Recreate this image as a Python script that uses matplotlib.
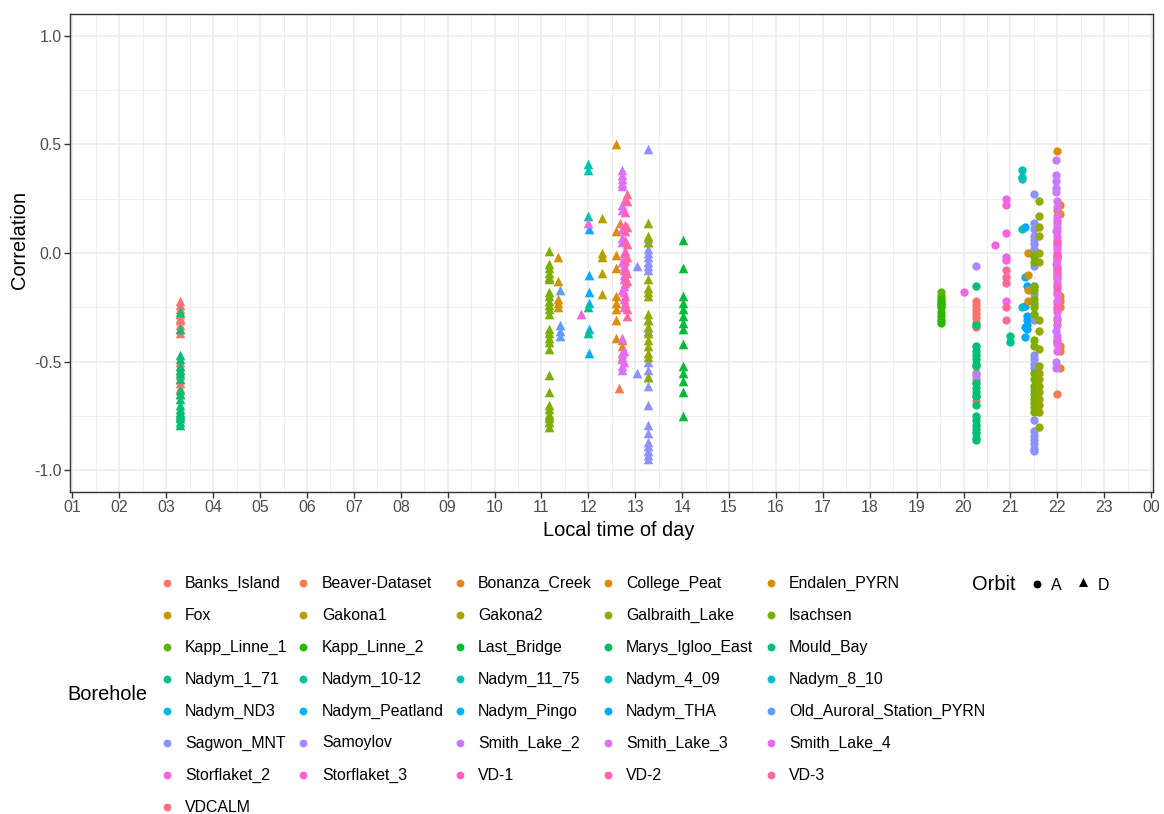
import numpy as np
import matplotlib
matplotlib.use("Agg")
import matplotlib.pyplot as plt

plt.rcParams['font.family'] = ['Liberation Sans', 'DejaVu Sans']

# ---- legend levels -------------------------------------------------------
boreholes = [
    "Banks_Island", "Beaver-Dataset", "Bonanza_Creek", "College_Peat", "Endalen_PYRN",
    "Fox", "Gakona1", "Gakona2", "Galbraith_Lake", "Isachsen",
    "Kapp_Linne_1", "Kapp_Linne_2", "Last_Bridge", "Marys_Igloo_East", "Mould_Bay",
    "Nadym_1_71", "Nadym_10-12", "Nadym_11_75", "Nadym_4_09", "Nadym_8_10",
    "Nadym_ND3", "Nadym_Peatland", "Nadym_Pingo", "Nadym_THA", "Old_Auroral_Station_PYRN",
    "Sagwon_MNT", "Samoylov", "Smith_Lake_2", "Smith_Lake_3", "Smith_Lake_4",
    "Storflaket_2", "Storflaket_3", "VD-1", "VD-2", "VD-3",
    "VDCALM",
]
orbits = ["A", "D"]
hour_labels = ["01", "02", "03", "04", "05", "06", "07", "08", "09", "10", "11", "12",
               "13", "14", "15", "16", "17", "18", "19", "20", "21", "22", "23", "00"]

# ---- descending orbit (local time in hours, correlation) -----------------
banks_island_D_t = 3.29
banks_island_D = [-0.22, -0.24, -0.26, -0.28, -0.30, -0.31, -0.33, -0.35, -0.37,
                  -0.50, -0.52, -0.54, -0.56, -0.58, -0.60, -0.62, -0.65]
mould_bay_D_t = 3.29
mould_bay_D = [-0.27, -0.35, -0.47, -0.49, -0.52, -0.54, -0.55, -0.58, -0.63, -0.65,
               -0.67, -0.70, -0.72, -0.73, -0.74, -0.75, -0.76, -0.78, -0.79]
isachsen_D_t = 11.16
isachsen_D = [0.01, -0.05, -0.07, -0.09, -0.11, -0.12, -0.18, -0.20, -0.22, -0.24,
              -0.26, -0.28, -0.35, -0.37, -0.39, -0.41, -0.44, -0.56, -0.64, -0.70,
              -0.72, -0.74, -0.75, -0.76, -0.78, -0.80]
endalen_D_t = 11.36
endalen_D = [-0.02, -0.13, -0.21, -0.23, -0.25]
old_auroral_D_t = 11.40
old_auroral_D = [-0.17, -0.33, -0.36, -0.38]
nadym_11_75_D_t = 12.0
nadym_11_75_D = [0.41, 0.38, 0.17]
nadym_pingo_D_t = 12.02
nadym_pingo_D = [0.11, -0.10, -0.18, -0.23, -0.35, -0.46]
nadym_1_71_D_t = 12.0
nadym_1_71_D = [-0.25, -0.37]
storflaket_2_D_t = [12.0, 11.84]
storflaket_2_D = [0.14, -0.28]
gakona1_D_t = 12.3
gakona1_D = [0.16, 0.0, -0.02, -0.09, -0.19]
college_peat_D_t = 12.6
college_peat_D = [0.50, 0.10, -0.01, -0.07, -0.20, -0.23, -0.26, -0.31, -0.39]
beaver_D_t = [12.68, 12.66]
beaver_D = [0.14, -0.62]
bonanza_D_t = 12.72
bonanza_D = [-0.40, -0.43, -0.46, -0.48]
smith_lake_3_D_t = 12.72
smith_lake_3_D = [0.38, 0.36, 0.34, 0.32, 0.31, 0.22, 0.20, 0.11, 0.07, 0.05,
                  -0.04, -0.17, -0.39, -0.46, -0.49, -0.52, -0.54]
smith_lake_4_D_t = 12.75
smith_lake_4_D = [0.0, -0.02, -0.04, -0.06, -0.08, -0.10, -0.12, -0.15, -0.18,
                  -0.21, -0.25, -0.45, -0.50]
vd_1_D_t = 12.79
vd_1_D = [0.25, 0.19, 0.13, 0.10, 0.06, 0.01, -0.03, -0.07, -0.11, -0.14, -0.20, -0.23]
vd_3_D_t = 12.82
vd_3_D = [0.27, 0.24, 0.12, 0.04, -0.02, -0.09, -0.13, -0.26, -0.29]
sagwon_D_t = [13.03, 13.03] + [13.27] * 24
sagwon_D = [-0.06, -0.55,
            0.48, 0.07, 0.05, 0.02, 0.0, -0.02, -0.04, -0.06, -0.08, -0.31, -0.34,
            -0.36, -0.50, -0.54, -0.57, -0.61, -0.70, -0.79, -0.83, -0.87, -0.89,
            -0.91, -0.93, -0.95]
galbraith_D_t = 13.27
galbraith_D = [0.14, 0.08, 0.05, -0.12, -0.16, -0.18, -0.20, -0.28, -0.31, -0.34,
               -0.37, -0.40, -0.43, -0.46, -0.48, -0.57]
last_bridge_D_t = 14.02
last_bridge_D = [0.06, -0.07, -0.20, -0.23, -0.26, -0.29, -0.32, -0.35, -0.42, -0.52,
                 -0.55, -0.59, -0.64, -0.75]

# ---- ascending orbit ------------------------------------------------------
kapp_linne_1_A_t = 19.52
kapp_linne_1_A = [-0.18, -0.20, -0.22, -0.24]
kapp_linne_2_A_t = 19.52
kapp_linne_2_A = [-0.21, -0.23, -0.25, -0.27, -0.29, -0.31, -0.32]
banks_island_A_t = 20.26
banks_island_A = [-0.22, -0.24, -0.26, -0.28, -0.30, -0.32, -0.34, -0.55, -0.58,
                  -0.60, -0.66, -0.68]
mould_bay_A_t = 20.26
mould_bay_A = [-0.15, -0.33, -0.43, -0.45, -0.47, -0.49, -0.51, -0.52, -0.60, -0.62,
               -0.64, -0.66, -0.70, -0.75, -0.77, -0.79, -0.81, -0.83, -0.85, -0.86]
samoylov_A_t = 20.26
samoylov_A = [-0.06, -0.56]
storflaket_2_A_t = [20.0, 20.67, 20.91, 20.91, 20.91, 20.91, 20.91, 20.91]
storflaket_2_A = [-0.18, 0.035, 0.25, 0.22, 0.09, -0.02, -0.03, -0.22]
vd_3_A_t = 20.91
vd_3_A = [-0.08, -0.11, -0.14, -0.25, -0.31]
nadym_1_71_A_t = 21.0
nadym_1_71_A = [-0.38, -0.41]
nadym_11_75_A_t = 21.25
nadym_11_75_A = [0.38, 0.35, 0.34, 0.11, -0.25]
nadym_pingo_A_t = 21.3
nadym_pingo_A = [0.12, -0.11, -0.245, -0.34, -0.385]
nadym_tha_A_t = 21.36
nadym_tha_A = [-0.15, -0.29, -0.31, -0.33, -0.35]
endalen_A_t = 21.38
endalen_A = [0.0, -0.10, -0.17, -0.22]
sagwon_A_t = 21.5
sagwon_A = [0.27, 0.14, 0.11, 0.08, 0.06, 0.04, 0.02, -0.02, -0.06, -0.15, -0.19,
            -0.29, -0.31, -0.47, -0.49, -0.51, -0.53, -0.63, -0.77, -0.82, -0.84,
            -0.86, -0.88, -0.90, -0.91]
isachsen_A_t = 21.5
isachsen_A = [-0.01, -0.04, -0.15, -0.17, -0.21, -0.23, -0.25, -0.28, -0.40, -0.43,
              -0.55, -0.58, -0.61, -0.65, -0.67, -0.69, -0.71, -0.73]
galbraith_A_t = 21.6
galbraith_A = [0.24, 0.17, 0.12, 0.08, 0.0, -0.04, -0.31, -0.36, -0.44, -0.52, -0.55,
               -0.58, -0.61, -0.64, -0.67, -0.70, -0.73, -0.80]
college_peat_A_t = 22.0
college_peat_A = [0.47, 0.20, -0.02, -0.09, -0.12, -0.31, -0.40]
bonanza_A_t = 22.05
bonanza_A = [0.22, 0.18, -0.20, -0.22, -0.25, -0.43, -0.45, -0.53]
beaver_A_t = 22.0
beaver_A = [-0.65]
smith_lake_2_A_t = 21.98
smith_lake_2_A = [0.43, 0.36, 0.33, 0.30, 0.28, 0.10, -0.05, -0.36, -0.50, -0.53]
smith_lake_3_A_t = 22.0
smith_lake_3_A = [0.24, 0.21, 0.17, 0.14, 0.12, 0.08, 0.04, 0.02, -0.02, -0.06, -0.10,
                  -0.14, -0.18, -0.22, -0.26, -0.30, -0.38, -0.42]
smith_lake_4_A_t = 22.0
smith_lake_4_A = [0.15, 0.10, 0.06, 0.03, 0.0, -0.03, -0.07, -0.11, -0.15, -0.19,
                  -0.23, -0.27, -0.33, -0.41, -0.45]
vd_1_A_t = 22.0
vd_1_A = [0.05, -0.01, -0.08, -0.16, -0.25]

series = [
    ("Banks_Island", "D", banks_island_D_t, banks_island_D),
    ("Mould_Bay", "D", mould_bay_D_t, mould_bay_D),
    ("Isachsen", "D", isachsen_D_t, isachsen_D),
    ("Endalen_PYRN", "D", endalen_D_t, endalen_D),
    ("Old_Auroral_Station_PYRN", "D", old_auroral_D_t, old_auroral_D),
    ("Nadym_11_75", "D", nadym_11_75_D_t, nadym_11_75_D),
    ("Nadym_Pingo", "D", nadym_pingo_D_t, nadym_pingo_D),
    ("Nadym_1_71", "D", nadym_1_71_D_t, nadym_1_71_D),
    ("Storflaket_2", "D", storflaket_2_D_t, storflaket_2_D),
    ("Gakona1", "D", gakona1_D_t, gakona1_D),
    ("College_Peat", "D", college_peat_D_t, college_peat_D),
    ("Beaver-Dataset", "D", beaver_D_t, beaver_D),
    ("Bonanza_Creek", "D", bonanza_D_t, bonanza_D),
    ("Smith_Lake_3", "D", smith_lake_3_D_t, smith_lake_3_D),
    ("Smith_Lake_4", "D", smith_lake_4_D_t, smith_lake_4_D),
    ("VD-1", "D", vd_1_D_t, vd_1_D),
    ("VD-3", "D", vd_3_D_t, vd_3_D),
    ("Sagwon_MNT", "D", sagwon_D_t, sagwon_D),
    ("Galbraith_Lake", "D", galbraith_D_t, galbraith_D),
    ("Last_Bridge", "D", last_bridge_D_t, last_bridge_D),
    ("Kapp_Linne_1", "A", kapp_linne_1_A_t, kapp_linne_1_A),
    ("Kapp_Linne_2", "A", kapp_linne_2_A_t, kapp_linne_2_A),
    ("Banks_Island", "A", banks_island_A_t, banks_island_A),
    ("Mould_Bay", "A", mould_bay_A_t, mould_bay_A),
    ("Samoylov", "A", samoylov_A_t, samoylov_A),
    ("Storflaket_2", "A", storflaket_2_A_t, storflaket_2_A),
    ("VD-3", "A", vd_3_A_t, vd_3_A),
    ("Nadym_1_71", "A", nadym_1_71_A_t, nadym_1_71_A),
    ("Nadym_11_75", "A", nadym_11_75_A_t, nadym_11_75_A),
    ("Nadym_Pingo", "A", nadym_pingo_A_t, nadym_pingo_A),
    ("Nadym_THA", "A", nadym_tha_A_t, nadym_tha_A),
    ("Endalen_PYRN", "A", endalen_A_t, endalen_A),
    ("Sagwon_MNT", "A", sagwon_A_t, sagwon_A),
    ("Isachsen", "A", isachsen_A_t, isachsen_A),
    ("Galbraith_Lake", "A", galbraith_A_t, galbraith_A),
    ("College_Peat", "A", college_peat_A_t, college_peat_A),
    ("Bonanza_Creek", "A", bonanza_A_t, bonanza_A),
    ("Beaver-Dataset", "A", beaver_A_t, beaver_A),
    ("Smith_Lake_2", "A", smith_lake_2_A_t, smith_lake_2_A),
    ("Smith_Lake_3", "A", smith_lake_3_A_t, smith_lake_3_A),
    ("Smith_Lake_4", "A", smith_lake_4_A_t, smith_lake_4_A),
    ("VD-1", "A", vd_1_A_t, vd_1_A),
]


def hcl_to_hex(h, c=100.0, l=65.0):
    """Polar CIE-Luv -> sRGB hex (same colour model as R's hcl())."""
    xn, yn, zn = 95.047, 100.0, 108.883
    y = yn * ((l + 16.0) / 116.0) ** 3 if l > 8 else yn * l / 903.3
    u = c * np.cos(np.radians(h))
    v = c * np.sin(np.radians(h))
    den = xn + 15 * yn + 3 * zn
    un, vn = 4 * xn / den, 9 * yn / den
    up = u / (13 * l) + un
    vp = v / (13 * l) + vn
    x = 9.0 * y * up / (4 * vp)
    z = -x / 3.0 - 5.0 * y + 3.0 * y / vp
    X, Y, Z = x / 100.0, y / 100.0, z / 100.0
    r = 3.240479 * X - 1.537150 * Y - 0.498535 * Z
    g = -0.969256 * X + 1.875992 * Y + 0.041556 * Z
    b = 0.055648 * X - 0.204043 * Y + 1.057311 * Z

    def gam(t):
        t = 12.92 * t if t <= 0.0031308 else 1.055 * t ** (1 / 2.4) - 0.055
        return min(max(t, 0.0), 1.0)
    return "#%02X%02X%02X" % tuple(int(round(255 * gam(t))) for t in (r, g, b))


n = len(boreholes)
hues = np.linspace(15, 375, n + 1)[:-1]
palette = {name: hcl_to_hex(h) for name, h in zip(boreholes, hues)}
shape_of = {"A": "o", "D": "^"}
size_of = {"A": 36, "D": 48}

W, H = 1164, 814
fig = plt.figure(figsize=(W / 100, H / 100), dpi=100)
L, R, T, B = 70, 1153, 14, 492
ax = fig.add_axes([L / W, 1 - B / H, (R - L) / W, (B - T) / H])

for name, orbit, t, vals in series:
    vals = np.asarray(vals, dtype=float)
    times = np.broadcast_to(np.asarray(t, dtype=float), vals.shape)
    ax.scatter(times, vals, s=size_of[orbit], marker=shape_of[orbit],
               color=palette[name], linewidths=0, zorder=3)

ax.set_xlim(0.947, 24.04)
ax.set_ylim(-1.1, 1.1)
hours = np.arange(1, 25)
ax.set_xticks(hours)
ax.set_xticklabels(hour_labels)
ax.set_xticks(np.arange(1.5, 24, 1.0), minor=True)
ax.set_yticks([-1.0, -0.5, 0.0, 0.5, 1.0])
ax.set_yticklabels(["-1.0", "-0.5", "0.0", "0.5", "1.0"])
ax.set_yticks([-0.75, -0.25, 0.25, 0.75], minor=True)

grid_col = "#EBEBEB"
ax.grid(which="major", color=grid_col, linewidth=1.1, zorder=0)
ax.grid(which="minor", color=grid_col, linewidth=0.55, zorder=0)
ax.set_axisbelow(True)
for sp in ax.spines.values():
    sp.set_color("#333333")
    sp.set_linewidth(1.0)
ax.tick_params(which="major", length=4, width=1.0, color="#333333",
               labelcolor="#4D4D4D", labelsize=11.4, pad=2)
ax.tick_params(which="minor", length=0)

fig.text(619 / W, 1 - 531 / H, "Local time of day", ha="center", va="center",
         fontsize=14.4, color="black")
fig.text(20 / W, 1 - 240 / H, "Correlation", ha="center", va="center",
         rotation=90, fontsize=14.4, color="black")

# ---- legends drawn in pixel space ----------------------------------------
lax = fig.add_axes([0, 0, 1, 1])
lax.set_xlim(0, W)
lax.set_ylim(H, 0)
lax.axis("off")

key_x = [167, 303, 460, 608, 771]
text_x = [185, 322, 478, 626, 789]
row_y0, row_dy = 583, 32
for i, name in enumerate(boreholes):
    r, c = divmod(i, 5)
    y = row_y0 + r * row_dy
    lax.scatter([key_x[c]], [y], s=32, marker="o", color=palette[name], linewidths=0)
    lax.text(text_x[c], y, name, ha="left", va="center", fontsize=11.4, color="black")
lax.text(67, 695, "Borehole", ha="left", va="center", fontsize=14.4, color="black")

lax.text(972, 585, "Orbit", ha="left", va="center", fontsize=14.4, color="black")
lax.scatter([1037], [584], s=32, marker="o", color="black", linewidths=0)
lax.text(1051, 585, "A", ha="left", va="center", fontsize=11.4, color="black")
lax.scatter([1083], [582], s=42, marker="^", color="black", linewidths=0)
lax.text(1098, 585, "D", ha="left", va="center", fontsize=11.4, color="black")

fig.savefig("out.png", dpi=100, facecolor="white")
